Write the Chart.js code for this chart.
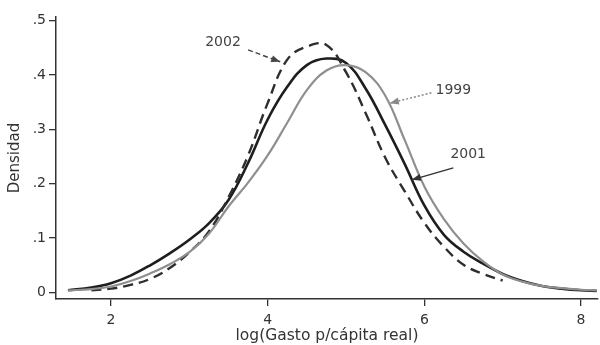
<!DOCTYPE html>
<html>
<head>
<meta charset="utf-8">
<script src="https://cdn.jsdelivr.net/npm/chart.js@4.4.1/dist/chart.umd.min.js"></script>
<style>
  html, body { margin: 0; padding: 0; background: #fff; }
  #wrap { width: 600px; height: 345px; }
</style>
</head>
<body>
<div id="wrap"><canvas id="grafico"></canvas></div>
<script>
// eje x: log(gasto per capita)
const xs = [1.45, 1.75, 2.0, 2.25, 2.5, 2.75, 3.0, 3.25, 3.5, 3.75, 4.0, 4.25, 4.5, 4.75,
            5.0, 5.25, 5.5, 5.75, 6.0, 6.25, 6.5, 6.75, 7.0, 7.25, 7.5, 7.75, 8.0, 8.2];

const dens1999 = [0.004, 0.006, 0.011, 0.021, 0.035, 0.052, 0.074, 0.108, 0.158, 0.202, 0.252, 0.312, 0.372, 0.408,
                  0.418, 0.405, 0.362, 0.280, 0.195, 0.135, 0.090, 0.057, 0.033, 0.020, 0.012, 0.008, 0.005, 0.004];
const dens2001 = [0.004, 0.009, 0.017, 0.031, 0.050, 0.072, 0.097, 0.127, 0.170, 0.238, 0.318, 0.378, 0.418, 0.430,
                  0.422, 0.375, 0.308, 0.236, 0.160, 0.106, 0.075, 0.053, 0.034, 0.021, 0.012, 0.007, 0.004, 0.003];
const dens2002 = [null, 0.004, 0.007, 0.014, 0.025, 0.045, 0.074, 0.112, 0.175, 0.252, 0.348, 0.428, 0.452, 0.455,
                  0.405, 0.330, 0.248, 0.186, 0.128, 0.084, 0.051, 0.034, 0.022, null, null, null, null, null];

const xTicks = [2, 4, 6, 8];
const yTicks = [0, 0.1, 0.2, 0.3, 0.4, 0.5];
const yTickLabels = ["0", ".1", ".2", ".3", ".4", ".5"];

// etiquetas con flecha (en unidades de datos)
const etiquetas = ["2002", "1999", "2001"];
const etiquetaX = [3.43, 6.37, 6.56];
const etiquetaY = [0.460, 0.372, 0.253];
const flechaDesdeX = [3.75, 6.09, 6.37];
const flechaDesdeY = [0.446, 0.367, 0.229];
const flechaHastaX = [4.16, 5.56, 5.84];
const flechaHastaY = [0.424, 0.348, 0.207];
const flechaEstilo = [[5, 3], [2, 2], []];
const flechaColor = ["#444", "#888", "#333"];

const fuente = "'DejaVu Sans', sans-serif";

const serie = (ys) => xs.map((x, i) => ({ x: x, y: ys[i] }));

const anotaciones = {
  id: "anotaciones",
  afterDatasetsDraw(chart) {
    const ctx = chart.ctx;
    const sx = chart.scales.x;
    const sy = chart.scales.y;
    ctx.save();
    etiquetas.forEach((txt, i) => {
      const x0 = sx.getPixelForValue(flechaDesdeX[i]);
      const y0 = sy.getPixelForValue(flechaDesdeY[i]);
      const x1 = sx.getPixelForValue(flechaHastaX[i]);
      const y1 = sy.getPixelForValue(flechaHastaY[i]);
      ctx.strokeStyle = flechaColor[i];
      ctx.fillStyle = flechaColor[i];
      ctx.lineWidth = 1.5;
      ctx.setLineDash(flechaEstilo[i]);
      ctx.beginPath();
      ctx.moveTo(x0, y0);
      ctx.lineTo(x1, y1);
      ctx.stroke();
      ctx.setLineDash([]);
      const ang = Math.atan2(y1 - y0, x1 - x0);
      ctx.beginPath();
      ctx.moveTo(x1, y1);
      ctx.lineTo(x1 - 9 * Math.cos(ang) + 3.5 * Math.sin(ang), y1 - 9 * Math.sin(ang) - 3.5 * Math.cos(ang));
      ctx.lineTo(x1 - 9 * Math.cos(ang) - 3.5 * Math.sin(ang), y1 - 9 * Math.sin(ang) + 3.5 * Math.cos(ang));
      ctx.closePath();
      ctx.fill();

      ctx.fillStyle = "#444";
      ctx.font = "14px " + fuente;
      ctx.textAlign = "center";
      ctx.textBaseline = "middle";
      ctx.fillText(txt, sx.getPixelForValue(etiquetaX[i]), sy.getPixelForValue(etiquetaY[i]));
    });
    ctx.restore();
  }
};

const config = {
  type: "line",
  data: {
    datasets: [
      {
        label: "1999",
        data: serie(dens1999),
        borderColor: "#8f8f8f",
        borderWidth: 2.2,
        pointRadius: 0,
        tension: 0.4,
        fill: false
      },
      {
        label: "2002",
        data: serie(dens2002),
        borderColor: "#2e2e2e",
        borderWidth: 2.4,
        borderDash: [10, 6],
        pointRadius: 0,
        tension: 0.4,
        fill: false
      },
      {
        label: "2001",
        data: serie(dens2001),
        borderColor: "#1e1e1e",
        borderWidth: 2.6,
        pointRadius: 0,
        tension: 0.4,
        fill: false
      }
    ]
  },
  options: {
    responsive: true,
    maintainAspectRatio: false,
    animation: false,
    layout: { padding: { top: 17, right: 2, left: 0, bottom: 0 } },
    plugins: {
      legend: { display: false },
      tooltip: { enabled: false }
    },
    scales: {
      x: {
        type: "linear",
        min: 1.298,
        max: 8.217,
        afterBuildTicks: (s) => { s.ticks = xTicks.map((v) => ({ value: v })); },
        afterFit: (s) => { s.height = 46; },
        grid: { display: true, drawOnChartArea: false, drawTicks: true, tickLength: 7, color: "#333", lineWidth: 1.3 },
        border: { display: true, color: "#333", width: 1.5 },
        ticks: {
          color: "#333",
          padding: 6,
          maxRotation: 0,
          autoSkip: false,
          font: { family: fuente, size: 14 },
          callback: (v) => String(v)
        },
        title: {
          display: true,
          text: "log(Gasto p/cápita real)",
          color: "#333",
          font: { family: fuente, size: 15.5 },
          padding: { top: 0, bottom: 0 }
        }
      },
      y: {
        type: "linear",
        min: -0.012,
        max: 0.5064,
        afterBuildTicks: (s) => { s.ticks = yTicks.map((v) => ({ value: v })); },
        afterFit: (s) => { s.width = 56; },
        grid: { display: true, drawOnChartArea: false, drawTicks: true, tickLength: 7, color: "#333", lineWidth: 1.3 },
        border: { display: true, color: "#333", width: 1.5 },
        ticks: {
          color: "#333",
          padding: 3,
          autoSkip: false,
          font: { family: fuente, size: 14 },
          callback: (v) => yTickLabels[yTicks.indexOf(Math.round(v * 10) / 10)]
        },
        title: {
          display: true,
          text: "Densidad",
          color: "#333",
          font: { family: fuente, size: 15 },
          padding: { top: 6, bottom: 0 }
        }
      }
    }
  },
  plugins: [anotaciones]
};

const canvas = document.getElementById("grafico");
const ctx = canvas.getContext("2d");
const miGrafico = new Chart(ctx, config);
</script>
</body>
</html>
